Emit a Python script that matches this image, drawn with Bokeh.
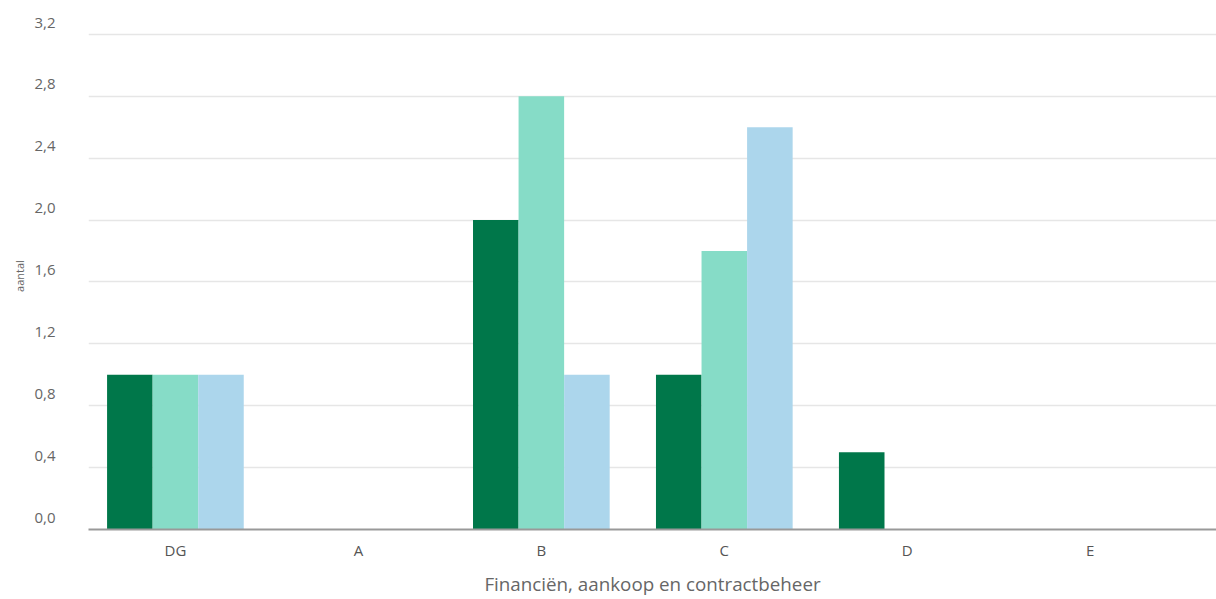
from bokeh.plotting import figure
from bokeh.models import (ColumnDataSource, FixedTicker, CustomJSTickFormatter,
                          LinearAxis, Range1d, Grid)
from bokeh.transform import dodge
from bokeh.embed import file_html
from bokeh.resources import INLINE

# Departments and counts per series
categories = ["DG", "A", "B", "C", "D", "E"]
series_1 = [1.0, 0.0, 2.0, 1.0, 0.5, 0.0]
series_2 = [1.0, 0.0, 2.8, 1.8, 0.0, 0.0]
series_3 = [1.0, 0.0, 1.0, 2.6, 0.0, 0.0]
y_ticks = [0.0, 0.4, 0.8, 1.2, 1.6, 2.0, 2.4, 2.8, 3.2]

colors = ["#00774a", "#86dcc7", "#acd6ec"]
FONT = "Open Sans"

Y_MAX = 3.2
PX_PER_UNIT = 496 / Y_MAX
# tick labels are drawn a few pixels above their grid line
LABEL_LIFT = 12 / PX_PER_UNIT

source = ColumnDataSource(dict(
    x=list(range(len(categories))),
    s1=series_1, s2=series_2, s3=series_3,
))

p = figure(
    width=1216, height=599,
    x_range=(-0.475, 5.69), y_range=(0, Y_MAX + LABEL_LIFT),
    y_axis_location=None,
    output_backend="svg", toolbar_location=None,
    min_border_left=88, min_border_right=0,
    min_border_top=22, min_border_bottom=69,
)
p.outline_line_color = None
p.background_fill_color = "white"
p.border_fill_color = "white"
for g in p.ygrid:
    g.visible = False

bw = 0.249
for col, off, c in zip(["s1", "s2", "s3"], [-bw, 0.0, bw], colors):
    p.vbar(x=dodge("x", off), top=col, width=bw, bottom=0,
           source=source, fill_color=c, line_color=None)

# horizontal grid lines
grid = Grid(dimension=1, ticker=FixedTicker(ticks=y_ticks),
            grid_line_color="#e6e6e6", grid_line_width=1.5)
p.add_layout(grid)

# y axis on a shifted range so each label sits above its line
p.extra_y_ranges = {"labels": Range1d(start=-LABEL_LIFT, end=Y_MAX)}
yaxis = LinearAxis(y_range_name="labels")
yaxis.ticker = FixedTicker(ticks=y_ticks)
yaxis.formatter = CustomJSTickFormatter(code="return tick.toFixed(1).replace('.', ',');")
yaxis.axis_line_color = None
yaxis.major_tick_line_color = None
yaxis.minor_tick_line_color = None
yaxis.major_tick_out = 0
yaxis.major_tick_in = 0
yaxis.major_label_standoff = 33
yaxis.major_label_text_font = FONT
yaxis.major_label_text_font_size = "15px"
yaxis.major_label_text_color = "#666666"
yaxis.axis_label = "aantal"
yaxis.axis_label_text_font = FONT
yaxis.axis_label_text_font_size = "11px"
yaxis.axis_label_text_font_style = "normal"
yaxis.axis_label_text_color = "#666666"
yaxis.axis_label_standoff = 4
p.add_layout(yaxis, "left")

# x axis: department names
p.xaxis.ticker = FixedTicker(ticks=list(range(len(categories))))
p.xaxis.major_label_overrides = {i: c for i, c in enumerate(categories)}
p.xaxis.axis_line_color = "#999999"
p.xaxis.axis_line_width = 2
p.xaxis.major_tick_line_color = None
p.xaxis.minor_tick_line_color = None
p.xaxis.major_tick_out = 0
p.xaxis.major_tick_in = 0
p.xaxis.major_label_standoff = 10
p.xaxis.major_label_text_font = FONT
p.xaxis.major_label_text_font_size = "15px"
p.xaxis.major_label_text_color = "#555555"
p.xaxis.axis_label = "Financiën, aankoop en contractbeheer"
p.xaxis.axis_label_text_font = FONT
p.xaxis.axis_label_text_font_size = "18.8px"
p.xaxis.axis_label_text_font_style = "normal"
p.xaxis.axis_label_text_color = "#666666"
p.xaxis.axis_label_standoff = 8

p.xgrid.grid_line_color = None

with open("out.html", "w") as f:
    f.write(file_html(p, INLINE))
